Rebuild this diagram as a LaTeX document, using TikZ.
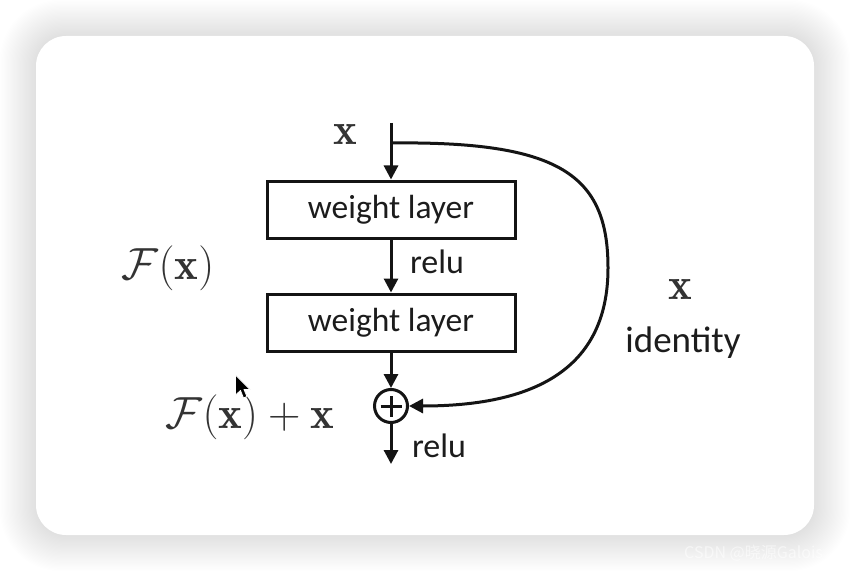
\RequirePackage{fix-cm}
\documentclass[tikz,border=0pt]{standalone}
\usepackage{fontspec}
\setsansfont{Carlito}
\newfontfamily\cjk{Noto Sans CJK SC}
\usetikzlibrary{arrows.meta}
\definecolor{ink}{HTML}{141414}
\definecolor{txt}{HTML}{1C1C1C}
\definecolor{mtxt}{HTML}{333333}
\tikzset{
  lay/.style={draw=ink, line width=3pt, fill=white, minimum width=248pt, minimum height=57pt, inner sep=0pt,
    font=\sffamily\fontsize{33.5}{38}\selectfont, text=txt},
  conn/.style={draw=ink, line width=3pt, -{Triangle[length=14pt,width=14pt]}},
  lbl/.style={font=\sffamily\fontsize{34}{38}\selectfont, text=txt, inner sep=0pt},
  mlbl/.style={font=\fontsize{45}{52}\selectfont, text=mtxt, inner sep=0pt},
  addc/.style={draw=ink, line width=3pt, circle, minimum size=33pt, inner sep=0pt, fill=white}
}
\begin{document}
\begin{tikzpicture}[x=1pt,y=-1pt]
\useasboundingbox (0,0) rectangle (850,572);
\fill[white] (0,0) rectangle (850,572);
% shadow
\foreach \i in {1,...,30}{
  \fill[black, opacity=0.0048, rounded corners={30+\i}] (36-\i*1.2,36-\i*1.2) rectangle (814+\i*1.2,535+\i*1.2);
}
\node[anchor=base west, font=\cjk\fontsize{16}{18}\selectfont, text=white, opacity=0.55, inner sep=0pt] (wm) at (684,558) {CSDN @晓源Galois};
% card
\fill[white, rounded corners=30] (36,36) rectangle (814,535);

% diagram
\node[lay] (w1) at (391,209.5) {weight layer};
\node[lay] (w2) at (391,322.5) {weight layer};
\node[addc] (add) at (391,406) {};
\draw[ink, line width=3pt] ([xshift=-10.5pt]add.center) -- ([xshift=10.5pt]add.center);
\draw[ink, line width=3pt] ([yshift=-10.5pt]add.center) -- ([yshift=10.5pt]add.center);
\coordinate (top) at (391,123);
\coordinate (split) at (391,143);
\coordinate (out) at (391,464);

\draw[conn] (top) -- (w1.north);
\draw[conn] (w1.south) -- (w2.north);
\draw[conn] (w2.south) -- (add.north);
\draw[conn] (add.south) -- (out);
\draw[conn] (split) .. controls (560,141) and (608,175) .. (608,268) .. controls (608,372) and (530,406) .. (add.east);

% labels
\node[mlbl] (xin) at (345,135) {$\mathbf{x}$};
\node[lbl] (r1) at (437,262) {relu};
\node[lbl] (r2) at (439,446) {relu};
\node[mlbl] (fx) at (168,268) {$\mathcal{F}(\mathbf{x})$};
\node[mlbl] (fxx) at (250,417) {$\mathcal{F}(\mathbf{x})+\mathbf{x}$};
\node[mlbl] (xid) at (680,290) {$\mathbf{x}$};
\node[lbl, font=\sffamily\fontsize{37}{40}\selectfont] (id) at (683,343) {identity};

% cursor
\filldraw[fill=black, draw=white, line width=0.8pt, line join=round]
  (235.5,375) -- (235.5,395) -- (240.5,390.5) -- (243.5,398) -- (247,396.5) -- (244,389.5) -- (250,389.5) -- cycle;
\end{tikzpicture}
\end{document}
